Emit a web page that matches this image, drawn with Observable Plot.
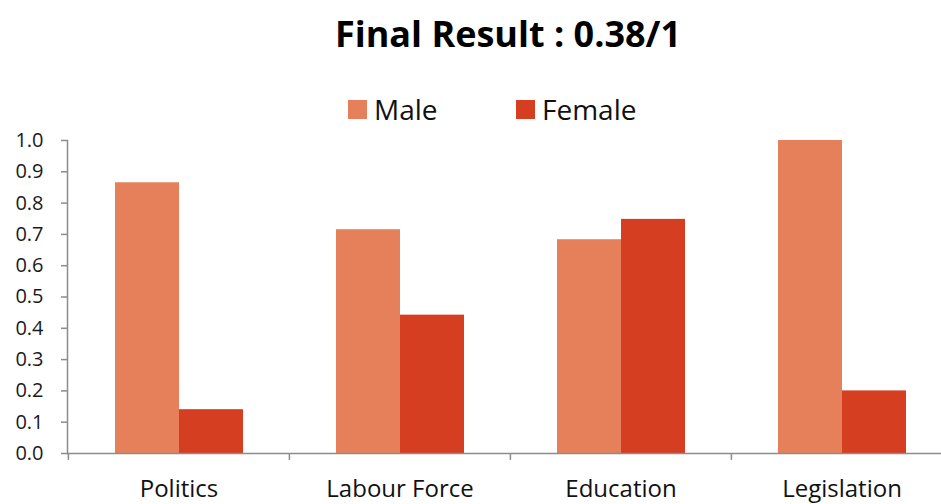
<!DOCTYPE html>
<html>
<head>
<meta charset="utf-8">
<script src="https://cdn.jsdelivr.net/npm/d3@7"></script>
<script src="https://cdn.jsdelivr.net/npm/@observablehq/plot@0.6"></script>
<style>
  body { margin: 0; background: #fff; font-family: "Open Sans", sans-serif; }
  #wrap { width: 941px; height: 504px; position: relative; overflow: hidden; background: #fff; }
  #title { position: absolute; left: 0; width: 1016px; top: 12px; text-align: center; font-weight: bold; font-size: 36px; line-height: 44px; color: #000; }
  #legend { position: absolute; top: 92px; left: 0; width: 941px; height: 34px; }
  .item { position: absolute; top: 0; height: 34px; display: flex; align-items: center; font-size: 28px; color: #111; }
  .sw { width: 19px; height: 19px; margin-right: 7px; }
  #chart { position: absolute; top: 125px; left: 0; }
</style>
</head>
<body>
<div id="wrap">
  <div id="title">Final Result : 0.38/1</div>
  <div id="legend"></div>
  <div id="chart"></div>
</div>
<script>
const categories = ["Politics", "Labour Force", "Education", "Legislation"];
const male = [0.865, 0.715, 0.683, 1.0];
const female = [0.14, 0.442, 0.748, 0.2];
const series = ["Male", "Female"];
const colors = ["#E5805A", "#D53E20"];
const yTicks = [0, 0.1, 0.2, 0.3, 0.4, 0.5, 0.6, 0.7, 0.8, 0.9, 1.0];

const data = categories.map((c, i) => ({category: c, male: male[i], female: female[i]}));

// legend
const legend = document.getElementById("legend");
const legendLeft = [348, 516];
series.forEach((s, i) => {
  const it = document.createElement("div");
  it.className = "item";
  it.style.left = legendLeft[i] + "px";
  const sw = document.createElement("div");
  sw.className = "sw";
  sw.style.background = colors[i];
  it.appendChild(sw);
  const t = document.createElement("span");
  t.textContent = s;
  it.appendChild(t);
  legend.appendChild(it);
});

const axisGray = "#8c8c8c";
const chart = Plot.plot({
  width: 941,
  height: 379,
  marginTop: 15,
  marginBottom: 51,
  marginLeft: 67,
  marginRight: 0,
  style: { fontFamily: "Open Sans, sans-serif", background: "#fff", overflow: "visible" },
  x: { domain: categories, range: [67, 952], padding: 0, axis: null },
  y: { domain: [0, 1], axis: null },
  marks: [
    Plot.barY(data, { x: "category", y: "male", fill: colors[0], insetLeft: 47, insetRight: 110 }),
    Plot.barY(data, { x: "category", y: "female", fill: colors[1], insetLeft: 111, insetRight: 46 }),
    Plot.frame({ anchor: "left", stroke: axisGray, strokeWidth: 1.5 }),
    Plot.frame({ anchor: "bottom", stroke: axisGray, strokeWidth: 1.5 }),
    Plot.ruleX(categories, { x: d => d, y1: 0, y2: -0.022, dx: -110.6, stroke: axisGray, strokeWidth: 1.5 }),
    Plot.axisY({ ticks: yTicks, tickFormat: ".1f", tickSize: 6, tickPadding: 18, fontSize: 20, fill: "#1a1a1a", stroke: axisGray, strokeWidth: 1.5, label: null }),
    Plot.axisX({ tickSize: 0, tickPadding: 26, fontSize: 24, fill: "#111", label: null })
  ]
});
document.getElementById("chart").appendChild(chart);
</script>
</body>
</html>
